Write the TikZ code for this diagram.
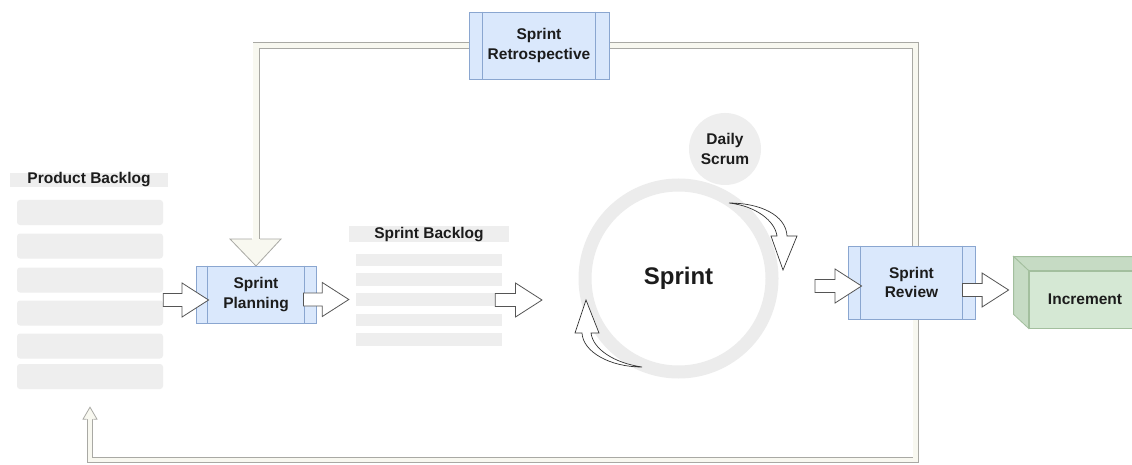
\documentclass[tikz,border=0pt]{standalone}
\usepackage{fontspec}
\setmainfont{Liberation Sans}
\usetikzlibrary{calc}
\definecolor{boxfill}{HTML}{DAE8FC}
\definecolor{boxline}{HTML}{8AA6D0}
\definecolor{itemgray}{HTML}{EEEEEE}
\definecolor{ringgray}{HTML}{ECECEC}
\definecolor{bandfill}{HTML}{F8F8F0}
\definecolor{bandline}{HTML}{A9A9A4}
\definecolor{cubefront}{HTML}{D5E8D4}
\definecolor{cubeside}{HTML}{C6DBC4}
\definecolor{cubeline}{HTML}{A3BF9E}
\definecolor{txt}{HTML}{1C1C1C}
\definecolor{arrline}{HTML}{555555}
\tikzset{
  lbl/.style={font=\fontsize{15.5}{19.5}\selectfont\bfseries, text=txt},
  proc/.style={lbl, align=center, draw=boxline, fill=boxfill, line width=0.9pt, inner sep=0pt},
  item/.style={fill=itemgray, rounded corners=3pt, minimum width=146, minimum height=25, inner sep=0pt},
  sitem/.style={fill=itemgray, minimum width=146, minimum height=12.5, inner sep=0pt},
  hdr/.style={lbl, fill=itemgray, inner sep=0pt, text height=11, text depth=3},
  blockarr/.style={fill=white, draw=arrline, line width=0.8pt, line join=miter},
  curvarr/.style={fill=white, draw=black!80, line width=0.7pt},
  bandout/.style={draw=bandline, line width=7pt},
  bandin/.style={draw=bandfill, line width=5.4pt},
  bandhead/.style={fill=bandfill, draw=bandline, line width=0.8pt},
  cubeface/.style={draw=cubeline, line width=0.8pt}
}
\newcommand\proclines[2]{\draw[boxline, line width=0.9pt]
  ($(#1.north west)+(#2,0)$) -- ($(#1.south west)+(#2,0)$)
  ($(#1.north east)+(-#2,0)$) -- ($(#1.south east)+(-#2,0)$);}
% horizontal block arrow: #1 tail, #2 tip (the tip's height is used)
\newcommand\blockarrow[2]{\draw[blockarr] let \p1=(#1), \p2=(#2) in
  (\x1,\y2+6.5pt) -- (\x2-26.5pt,\y2+6.5pt) -- (\x2-26.5pt,\y2+17pt) -- (\x2,\y2)
  -- (\x2-26.5pt,\y2-17pt) -- (\x2-26.5pt,\y2-6.5pt) -- (\x1,\y2-6.5pt) -- cycle;}
\begin{document}
\begin{tikzpicture}[x=1pt,y=-1pt]
\useasboundingbox (0,0) rectangle (1132,465);
\fill[white] (0,0) rectangle (1132,465);

% ---------- nodes ----------
\node[hdr, minimum width=158, minimum height=14] (pbh) at (89,180) {Product Backlog};
\node[item] (pb1) at (90,212.5) {};
\node[item] (pb2) at (90,246) {};
\node[item] (pb3) at (90,280) {};
\node[item] (pb4) at (90,313) {};
\node[item] (pb5) at (90,346) {};
\node[item] (pb6) at (90,376.5) {};

\node[hdr, minimum width=160, minimum height=16] (sbh) at (429,234) {Sprint Backlog};
\node[sitem] (sb1) at (429,260) {};
\node[sitem] (sb2) at (429,279.5) {};
\node[sitem] (sb3) at (429,299.5) {};
\node[sitem] (sb4) at (429,320) {};
\node[sitem] (sb5) at (429,339.5) {};

% coordinates of the feedback loop
\coordinate (plan-c) at (256,294.5);
\coordinate (review-c) at (911.5,282.5);
\coordinate (retro-c) at (539,45.5);

% ---------- feedback loop bands (behind the boxes) ----------
\coordinate (r1) at ($(review-c)+(4,0)$);
\coordinate (headtop) at ($(plan-c)+(0,-55.5)$);
\draw[bandout] (r1) |- (retro-c) -| (headtop);
\draw[bandin]  (r1) |- (retro-c) -| (headtop);
\filldraw[bandhead] ($(headtop)+(-4.2,0)$) -- ($(headtop)+(-26,0)$) -- ($(headtop)+(0,27)$)
  -- ($(headtop)+(25,0)$) -- ($(headtop)+(4.2,0)$);

\coordinate (botcorner) at ($(pb6.center)+(0,83.5)$);
\coordinate (bothead) at ($(pb6.south)+(0,30)$);
\draw[bandout, line width=6pt] (r1) |- (botcorner) -- (bothead);
\draw[bandin, line width=4.6pt] (r1) |- (botcorner) -- (bothead);
\filldraw[bandhead] ($(bothead)+(-3.4,0)$) -- ($(bothead)+(-7,0)$) -- ($(bothead)+(0,-12)$)
  -- ($(bothead)+(7,0)$) -- ($(bothead)+(3.4,0)$);

% ---------- process boxes ----------
\node[proc, minimum width=120, minimum height=57] (plan) at (plan-c) {Sprint\\Planning};
\proclines{plan}{12}
\node[proc, minimum width=140, minimum height=67] (retro) at (retro-c) {Sprint\\Retrospective};
\proclines{retro}{14}
\node[proc, minimum width=127, minimum height=73] (review) at (review-c) {Sprint\\Review};
\proclines{review}{13}

% ---------- sprint cycle ----------
\node[circle, draw=ringgray, line width=13pt, minimum size=187, inner sep=0pt,
      font=\fontsize{24}{28}\selectfont\bfseries, text=txt] (sprint) at (678.5,278.5) {Sprint};
\node[circle, fill=itemgray, minimum size=72, inner sep=0pt, lbl, align=center] (daily) at (725,149) {Daily\\Scrum};

\draw[curvarr] (729,203) .. controls (760,203) and (786,215) .. (787,236) -- (797,236) -- (783,270)
  -- (771,236) -- (777,236) .. controls (775,221) and (756,206) .. (729,203) -- cycle;
\draw[curvarr] (642,367) .. controls (610,367) and (583,352) .. (582,333) -- (575,333) -- (586,300)
  -- (599,333) -- (591,333) .. controls (593,349) and (614,363) .. (642,367) -- cycle;

% ---------- increment cube ----------
\node[cubeface, fill=cubefront, minimum width=127, minimum height=57, inner sep=0pt] (inc) at (1092.5,299.5) {};
\filldraw[cubeface, fill=cubeside] ($(inc.north west)+(-15,-14)$) -- ($(inc.north east)+(-15,-14)$)
  -- (inc.north east) -- (inc.north west) -- cycle;
\filldraw[cubeface, fill=cubeside] ($(inc.north west)+(-15,-14)$) -- (inc.north west)
  -- (inc.south west) -- ($(inc.south west)+(-15,-14)$) -- cycle;
\node[lbl] (inctext) at (1085,299.5) {Increment};

% ---------- block arrows ----------
\blockarrow{pb1.east}{$(plan.west)+(13,5.5)$}
\blockarrow{$(plan.east)+(-13,0)$}{$(sb3.west)+(-7,0)$}
\blockarrow{$(sb3.east)+(-7,0)$}{$(sprint.center)+(-136.5,21.5)$}
\blockarrow{$(sprint.center)+(136.5,0)$}{$(review.west)+(14,3.5)$}
\blockarrow{$(review.east)+(-13,0)$}{$(inc.west)+(-20,-9.5)$}
\end{tikzpicture}
\end{document}
